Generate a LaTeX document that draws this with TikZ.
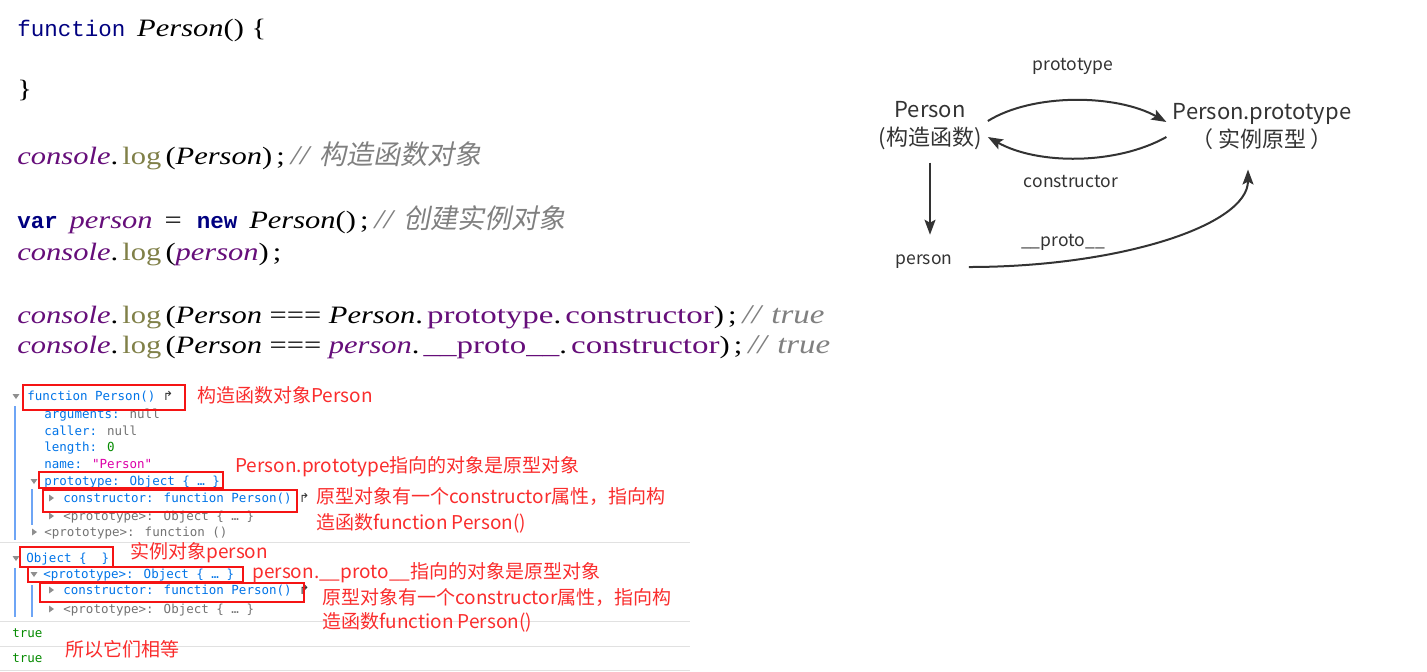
\documentclass[tikz,border=0pt]{standalone}
\usepackage{fontspec}
\usepackage{tikz}
\usetikzlibrary{arrows.meta}
\usetikzlibrary{positioning}
\setmainfont{Liberation Serif}
\newfontfamily\codeserif[FakeStretch=1.22]{Liberation Serif}
\newfontfamily\codewide[FakeStretch=1.32]{Liberation Serif}
\newfontfamily\codemono{Liberation Mono}
\newfontfamily\consolefont{DejaVu Sans Mono}
\newfontfamily\symfont{DejaVu Sans}
\newfontfamily\cjk{Noto Sans CJK SC}
\newfontfamily\cjkslant[FakeSlant=0.2]{Noto Sans CJK SC}
\definecolor{navyblue}{RGB}{0, 0, 128}
\definecolor{wisteria}{RGB}{102, 14, 122}
\definecolor{olivegray}{RGB}{128, 128, 72}
\definecolor{commentgray}{RGB}{128, 128, 128}
\definecolor{devblue}{RGB}{0, 116, 232}
\definecolor{devgray}{RGB}{115, 115, 115}
\definecolor{devgreen}{RGB}{5, 139, 0}
\definecolor{devpink}{RGB}{221, 0, 169}
\definecolor{guideblue}{RGB}{110, 165, 245}
\definecolor{rulegray}{RGB}{225, 225, 225}
\definecolor{markred}{RGB}{245, 20, 20}
\definecolor{notered}{RGB}{250, 45, 45}
\definecolor{ink}{RGB}{51, 51, 51}
\newcommand{\kw}[1]{{\codemono\fontsize{11.25}{15}\selectfont\color{navyblue}#1}}
\newcommand{\vr}[1]{\textit{\color{wisteria}#1}}
\newcommand{\pr}[1]{{\codewide\color{wisteria}#1}}
\newcommand{\fnc}[1]{\,\textcolor{olivegray}{#1}\,}
\newcommand{\cm}[1]{\,;\hspace{3pt}\textcolor{commentgray}{\fontsize{13.5}{15}\selectfont\textit{//}\hspace{4pt}\textit{#1}}}
\tikzset{
    codeline/.style={anchor=base west, inner sep=0pt, font=\codeserif\fontsize{12.5}{15}\selectfont},
    logline/.style={anchor=base west, inner sep=0pt, text=devblue, font=\consolefont\fontsize{6.25}{7}\selectfont},
    note/.style={anchor=base west, inner sep=0pt, text=notered, font=\cjk\fontsize{9.5}{11}\selectfont},
    markbox/.style={draw=markred, line width=1.25pt},
    guide/.style={draw=guideblue, line width=1pt},
    rule/.style={draw=rulegray, line width=0.5pt},
    caret/.style={fill=devgray!80},
    caretdown/.pic={\fill[caret] (-3.5,-2) -- (3.5,-2) -- (0,3) -- cycle;},
    caretright/.pic={\fill[caret] (-2,-3.5) -- (-2,3.5) -- (3,0) -- cycle;},
    dtext/.style={text=ink, align=center, inner sep=3pt, font=\cjk\fontsize{11}{14}\selectfont},
    dlabel/.style={text=ink, inner sep=3pt, font=\cjk\fontsize{8.75}{10}\selectfont},
    flow/.style={draw=ink, line width=1pt, -{Stealth[length=7.5pt, width=5.5pt, inset=1.5pt]}}
}
\begin{document}
\begin{tikzpicture}[x=0.5pt, y=-0.5pt]
    \fill[white] (0,0) rectangle (1427,671);
    \useasboundingbox (0,0) rectangle (1427,671);

    % source code
    \node[codeline] (fndecl) at (17, 36) {\kw{function}\,\ \textit{Person}() \{};
    \node[codeline] (fnend)  at (17, 97) {\}};
    \node[codeline] (logfn)  at (17,164) {\vr{console}.\fnc{log}(\textit{Person})\cm{{\cjkslant 构造函数对象}}};
    \node[codeline] (newobj) at (17,228) {\kw{\bfseries var}\,\ \vr{person}\,\ =\ \ \kw{\bfseries new}\,\ \textit{Person}()\cm{{\cjkslant 创建实例对象}}};
    \node[codeline] (logobj) at (17,260) {\vr{console}.\fnc{log}(\vr{person})\,;};
    \node[codeline] (eqone)  at (17,323) {\vr{console}.\fnc{log}(\textit{Person} === \textit{Person}.\,\pr{prototype}.\,\pr{constructor})\cm{true}};
    \node[codeline] (eqtwo)  at (17,353) {\vr{console}.\fnc{log}(\textit{Person} === \vr{person}.\,\pr{\_\_proto\_\_}.\,\pr{constructor})\cm{true}};

    % console output
    \draw[rule] (0,542) -- (690,542);
    \draw[rule] (0,621) -- (690,621);
    \draw[rule] (0,646) -- (690,646);
    \draw[rule] (0,670) -- (690,670);
    \draw[guide] (15,406) -- (15,540);
    \draw[guide] (32,489) -- (32,525);
    \draw[guide] (15,568) -- (15,617);
    \draw[guide] (32,585) -- (32,617);

    \pic at (16,396) {caretdown};
    \node[logline] (fnrow)    at (27,400) {function Person() \textcolor{ink}{\symfont ↱}};
    \node[logline] (argsrow)  at (44,418) {arguments: \textcolor{devgray}{null}};
    \node[logline] (callrow)  at (44,435) {caller: \textcolor{devgray}{null}};
    \node[logline] (lenrow)   at (44,451) {length: \textcolor{devgreen}{0}};
    \node[logline] (namerow)  at (44,468) {name: \textcolor{devpink}{"Person"}};
    \pic at (34,481) {caretdown};
    \node[logline] (protorow) at (44,485) {prototype: Object \{ … \}};
    \pic at (51,498) {caretright};
    \node[logline] (ctorrow)  at (63,502) {constructor: function Person() \textcolor{ink}{\symfont ↱}};
    \pic at (51,516) {caretright};
    \node[logline, text=devgray] (objproto) at (63,520) {<prototype>: Object \{ … \}};
    \pic at (34,532) {caretright};
    \node[logline, text=devgray] (fnproto)  at (44,536) {<prototype>: function ()};

    \pic at (16,558) {caretdown};
    \node[logline] (objrow)   at (26,562) {Object \{\ \ \}};
    \pic at (34,574) {caretdown};
    \node[logline] (dunder)   at (43,578) {<prototype>: Object \{ … \}};
    \pic at (51,590) {caretright};
    \node[logline] (ctorrowb) at (63,594) {constructor: function Person() \textcolor{ink}{\symfont ↱}};
    \pic at (51,609) {caretright};
    \node[logline, text=devgray] (objprotob) at (63,613) {<prototype>: Object \{ … \}};
    \node[logline, text=devgreen] (trueone) at (12,637) {true};
    \node[logline, text=devgreen] (truetwo) at (12,662) {true};

    % red marks
    \draw[markbox] (23,385) rectangle (185,410);
    \draw[markbox] (39,472) rectangle (223,488);
    \draw[markbox] (43,490) rectangle (297,512);
    \draw[markbox] (20,547) rectangle (113,567);
    \draw[markbox] (28,567) rectangle (243,582);
    \draw[markbox] (40,583) rectangle (304,602);
    \node[note] (ctornote)  at (197,402) {构造函数对象Person};
    \node[note] (protonote) at (235,472) {Person.prototype指向的对象是原型对象};
    \node[note] (linknote)  at (316,503) {原型对象有一个constructor属性，指向构};
    \node[note] (linknoteb) at (316,529) {造函数function Person()};
    \node[note] (instnote)  at (130,558) {实例对象person};
    \node[note] (dundnote)  at (252,578) {person.\_\_proto\_\_指向的对象是原型对象};
    \node[note] (linknotec) at (322,604) {原型对象有一个constructor属性，指向构};
    \node[note] (linknoted) at (322,628) {造函数function Person()};
    \node[note] (eqnote)    at (65,656) {所以它们相等};

    % prototype diagram
    \node[dtext]  (ctor)   at (930,126)  {Person\\(构造函数)};
    \node[dtext]  (proto)  at (1262,126) {Person.prototype\\（ 实例原型 ）};
    \node[dlabel] (inst)   at (924,262)  {person};
    \node[dlabel] (lblpro) at (1073,66)  {prototype};
    \node[dlabel] (lblcon) at (1071,182) {constructor};
    \node[dlabel] (lbldun) at (1063,242) {\_\_proto\_\_};
    \draw[flow] ([yshift=2.5pt]ctor.east) .. controls +(45,-28) and +(-50,-28) .. ([yshift=2pt]proto.west);
    \draw[flow] ([yshift=-5.5pt]proto.west) .. controls +(-50,28) and +(50,28) .. ([yshift=-5.5pt]ctor.east);
    \draw[flow, shorten <=3pt, shorten >=7pt] (ctor.south) -- (ctor.south |- inst.north);
    \draw[flow, shorten >=7pt] ([xshift=5pt, yshift=-2.5pt]inst.east) .. controls +(150,0) and +(0,70) .. ([xshift=-7pt]proto.south);
\end{tikzpicture}
\end{document}
